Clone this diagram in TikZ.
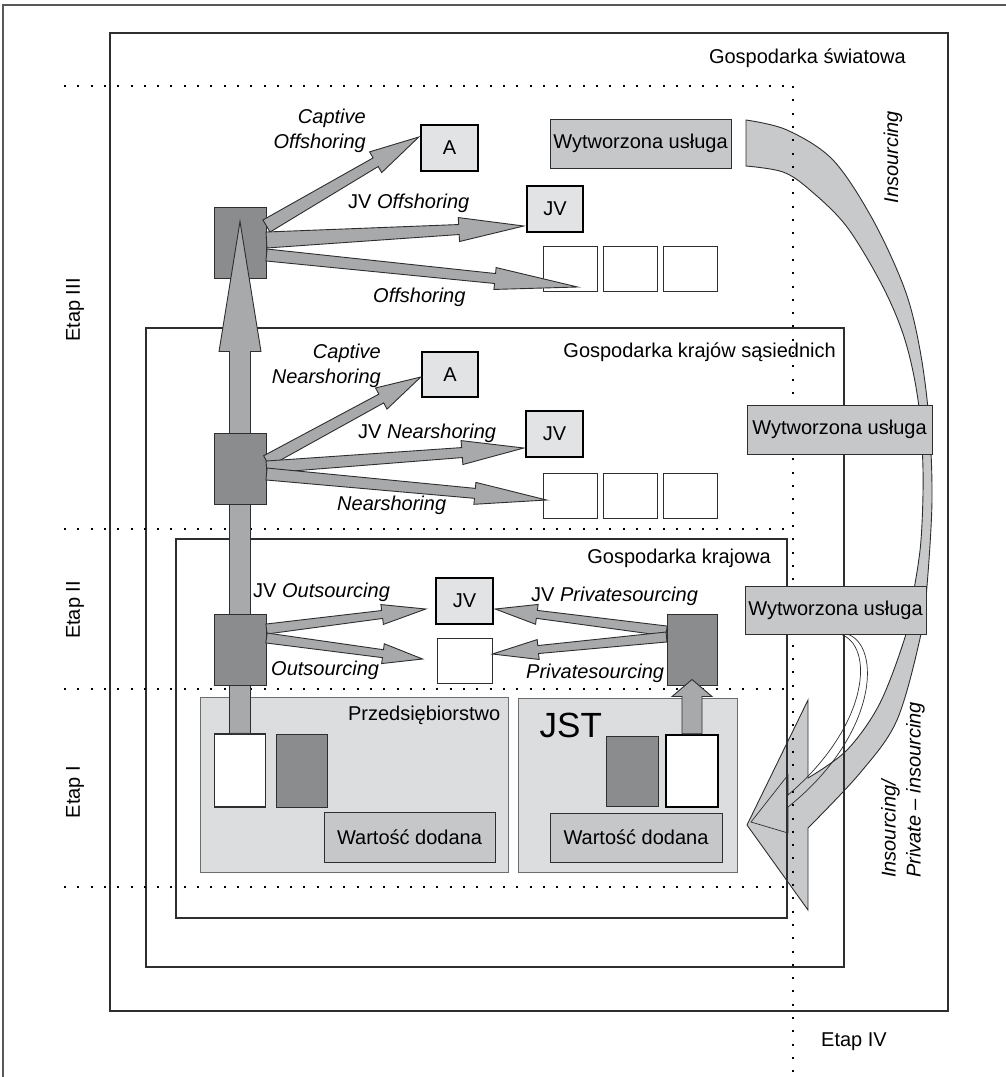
\documentclass[tikz,border=0pt]{standalone}
\usepackage{fontspec}
\setmainfont{Liberation Sans}
\usetikzlibrary{calc}

\definecolor{srcgrey}{HTML}{8B8C8E}
\definecolor{arrowgrey}{HTML}{A8A9AB}
\definecolor{boxlight}{HTML}{E2E3E5}
\definecolor{zonegrey}{HTML}{DCDDDF}
\definecolor{prodgrey}{HTML}{C6C7C9}
\definecolor{bandgrey}{HTML}{C8C9CB}
\definecolor{linegrey}{HTML}{2E2E2E}

\tikzset{
  srcbox/.style={draw=linegrey, line width=1pt, fill=srcgrey, inner sep=0, minimum width=52, minimum height=71},
  unitbox/.style={draw=black, line width=2.4pt, fill=boxlight, inner sep=0, minimum width=56, minimum height=45},
  emptybox/.style={draw=linegrey, line width=0.8pt, fill=white, inner sep=0, minimum width=54, minimum height=45},
  prodbox/.style={draw=linegrey, line width=1pt, fill=prodgrey, inner sep=0, minimum height=49},
  zonebox/.style={draw=linegrey!70, line width=1pt, fill=zonegrey, inner sep=0},
  economy/.style={draw=linegrey, line width=1.1pt},
  lbl/.style={inner sep=0},
  fanarrow/.style={draw=linegrey, line width=0.9pt, fill=arrowgrey, line join=miter},
  band/.style={draw=linegrey, line width=0.9pt, fill=bandgrey},
  dotline/.style={black, line width=2pt, dash pattern=on 2pt off 11.3pt}
}

% fat arrow: start, tip, start half width, shaft half width, head half width, head length
\newcommand\fanarrow[6]{%
  \path (#1) coordinate (fa-s) (#2) coordinate (fa-e);
  \coordinate (fa-b) at ($(fa-e)!#6pt!(fa-s)$);
  \draw[fanarrow] ($(fa-s)!#3pt!90:(fa-e)$) -- ($(fa-b)!#4pt!90:(fa-e)$)
    -- ($(fa-b)!#5pt!90:(fa-e)$) -- (fa-e) -- ($(fa-b)!#5pt!-90:(fa-e)$)
    -- ($(fa-b)!#4pt!-90:(fa-e)$) -- ($(fa-s)!#3pt!-90:(fa-e)$) -- cycle;
}

\begin{document}
\begin{tikzpicture}[x=1pt, y=-1pt, font=\fontsize{20}{25}\selectfont]
  \useasboundingbox (0,0) rectangle (1006,1077);

  % frame of the figure
  \draw[linegrey!80, line width=1.2pt] (3,1077) -- (3,5) -- (1006,5);

  % Insourcing band
  \draw[band] plot[smooth, tension=0.55] coordinates {(746,120) (787,130) (833,160) (873,220) (905,290) (920,350) (929,420) (932,500) (927,586) (921,634) (897,720) (860,773) (808,828)}
    -- (808,910) -- (747,825) -- (808,700) -- (808,778)
    -- plot[smooth, tension=0.55] coordinates {(808,778) (847,750) (880,703) (906,634) (914,590) (921,540) (923,470) (918,400) (905,340) (883,287) (847,227) (810,190) (783,172) (746,166)} -- cycle;

  % Private - insourcing
  \draw[linegrey, line width=0.7pt] (840,634) .. controls (875,645) and (870,725) .. (788,795)
    -- (788,775) -- (751,822) -- (788,833) -- (788,807)
    .. controls (878,735) and (882,645) .. (847,634);

  % economies
  \draw[economy] (110,33) rectangle (948,1011);
  \draw[economy] (146,328) rectangle (844,967);
  \draw[economy] (176,539) rectangle (787,918);

  % stages
  \foreach \yy in {86,529,689,887}
    \draw[dotline] (64,\yy) -- (793,\yy);
  \draw[dotline] (793,86) -- (793,1075);

  \node[lbl, anchor=east] (worldlbl) at (906,58) {Gospodarka światowa};
  \node[lbl, anchor=east] (nearlbl) at (836,352) {Gospodarka krajów sąsiednich};
  \node[lbl, anchor=east] (domlbl) at (771,558) {Gospodarka krajowa};

  \node[lbl, rotate=90] (etap3) at (75,310) {Etap III};
  \node[lbl, rotate=90] (etap2) at (75,610) {Etap II};
  \node[lbl, rotate=90] (etap1) at (75,792) {Etap I};
  \node[lbl, anchor=west] (etap4) at (821,1042) {Etap IV};

  \node[lbl, rotate=90] (inslbl) at (893,157) {\textit{Insourcing}};
  \node[lbl, rotate=90, align=left] (privinslbl) at (903,790) {\textit{Insourcing/}\\\textit{Private -- insourcing}};

  % services produced
  \node[prodbox, minimum width=181] (offprod) at (640.5,143.5) {Wytworzona usługa};
  \node[prodbox, minimum width=185] (nearprod) at (839.5,429.5) {Wytworzona usługa};
  \node[prodbox, minimum width=181, minimum height=48] (domprod) at (835.5,610) {Wytworzona usługa};

  % enterprise and JST
  \node[zonebox, minimum width=308, minimum height=175] (firm) at (354,784.5) {};
  \node[lbl, anchor=east] (firmlbl) at ($(firm.north east)+(-8,19)$) {Przedsiębiorstwo};
  \node[draw=linegrey, line width=1.5pt, fill=white, minimum width=51, minimum height=73, inner sep=0] (firmW) at (240,770.5) {};
  \node[srcbox, minimum width=51, minimum height=73] (firmD) at (301.5,770.5) {};
  \node[prodbox, minimum width=171, minimum height=50] (firmVA) at (409.5,837) {Wartość dodana};

  \node[zonebox, minimum width=219, minimum height=174] (jst) at (627.5,785) {};
  \node[lbl, anchor=west, font=\fontsize{35}{40}\selectfont] (jstlbl) at ($(jst.north west)+(22,28)$) {JST};
  \node[srcbox, minimum width=52, minimum height=70] (jstD) at (632,771) {};
  \node[draw=black, line width=2.4pt, fill=white, minimum width=52, minimum height=72, inner sep=0] (jstW) at (692,771) {};
  \node[prodbox, minimum width=172] (jstVA) at (636,837.5) {Wartość dodana};

  % targets abroad
  \node[unitbox, minimum width=57, minimum height=46] (offA) at (449.5,148) {A};
  \node[unitbox, minimum height=46] (offJV) at (555,209) {JV};
  \foreach \xx [count=\i] in {570,630,690}
    \node[emptybox] (offW\i) at (\xx,268.5) {};

  \node[unitbox] (nearA) at (450,374.5) {A};
  \node[unitbox, minimum width=57, minimum height=46] (nearJV) at (554.5,434) {JV};
  \foreach \xx [count=\i] in {570,630,690}
    \node[emptybox] (nearW\i) at (\xx,495.5) {};

  \node[unitbox, minimum width=57, minimum height=46] (outJV) at (464.5,601) {JV};
  \node[emptybox, minimum width=55] (outW) at (464.5,660.5) {};

  % sources and the main path
  \node[srcbox] (offsrc) at (240,242.5) {};
  \fanarrow{firmW.north}{$(offsrc.north)+(0,15)$}{10.5}{10.5}{21}{130}
  \node[srcbox] (nearsrc) at (240,468.5) {};
  \node[srcbox] (outsrc) at (240,649.5) {};
  \node[srcbox, minimum width=50] (privsrc) at (692,649.5) {};
  \fanarrow{jstW.north}{$(privsrc.south)+(0,-6)$}{10}{10}{20}{17}

  % offshoring
  \fanarrow{$(offsrc.east)+(0,-16.5)$}{$(offA.west)+(-1,-11)$}{7}{5}{12}{50}
  \fanarrow{$(offsrc.east)+(0,-2.5)$}{$(offJV.west)+(-2,17)$}{8}{5}{12}{65}
  \fanarrow{$(offsrc.east)+(0,12.5)$}{$(offW1.west)+(35,18.5)$}{6}{5}{11}{83}

  % nearshoring
  \fanarrow{$(nearsrc.east)+(0,-7.5)$}{$(nearA.west)+(0,2.5)$}{6}{5}{12}{45}
  \fanarrow{$(nearsrc.east)+(0,-1.5)$}{$(nearJV.west)+(-1,14)$}{6}{5}{12}{62}
  \fanarrow{$(nearsrc.east)+(0,5.5)$}{$(nearW1.west)+(4,4.5)$}{6}{5}{11}{72}

  % outsourcing and privatesourcing
  \fanarrow{$(outsrc.east)+(0,-20.5)$}{$(outJV.west)+(-9,8)$}{5}{4}{10}{44}
  \fanarrow{$(outsrc.east)+(0,-11.5)$}{$(outW.west)+(-14,-1.5)$}{5}{4}{10}{40}
  \fanarrow{$(privsrc.west)+(0,-18.5)$}{$(outJV.east)+(1,8)$}{5}{4}{10}{42}
  \fanarrow{$(privsrc.west)+(0,-12.5)$}{$(outW.east)+(0,-6.5)$}{5}{4}{10}{46}

  % arrow labels
  \node[lbl, anchor=east, align=right] (capofflbl) at (366,131) {\textit{Captive}\\\textit{Offshoring}};
  \node[lbl, anchor=west] (jvofflbl) at (348,203) {JV \textit{Offshoring}};
  \node[lbl, anchor=west] (offlbl) at (373,297) {\textit{Offshoring}};
  \node[lbl, anchor=east, align=right] (capnearlbl) at (381,366) {\textit{Captive}\\\textit{Nearshoring}};
  \node[lbl, anchor=west] (jvnearlbl) at (358,433) {JV \textit{Nearshoring}};
  \node[lbl, anchor=west] (nearshlbl) at (337,505) {\textit{Nearshoring}};
  \node[lbl, anchor=west] (jvoutlbl) at (253,592) {JV \textit{Outsourcing}};
  \node[lbl, anchor=west] (outlbl) at (271,670) {\textit{Outsourcing}};
  \node[lbl, anchor=west] (jvprivlbl) at (531,596) {JV \textit{Privatesourcing}};
  \node[lbl, anchor=west] (privlbl) at (526,673) {\textit{Privatesourcing}};
\end{tikzpicture}
\end{document}
